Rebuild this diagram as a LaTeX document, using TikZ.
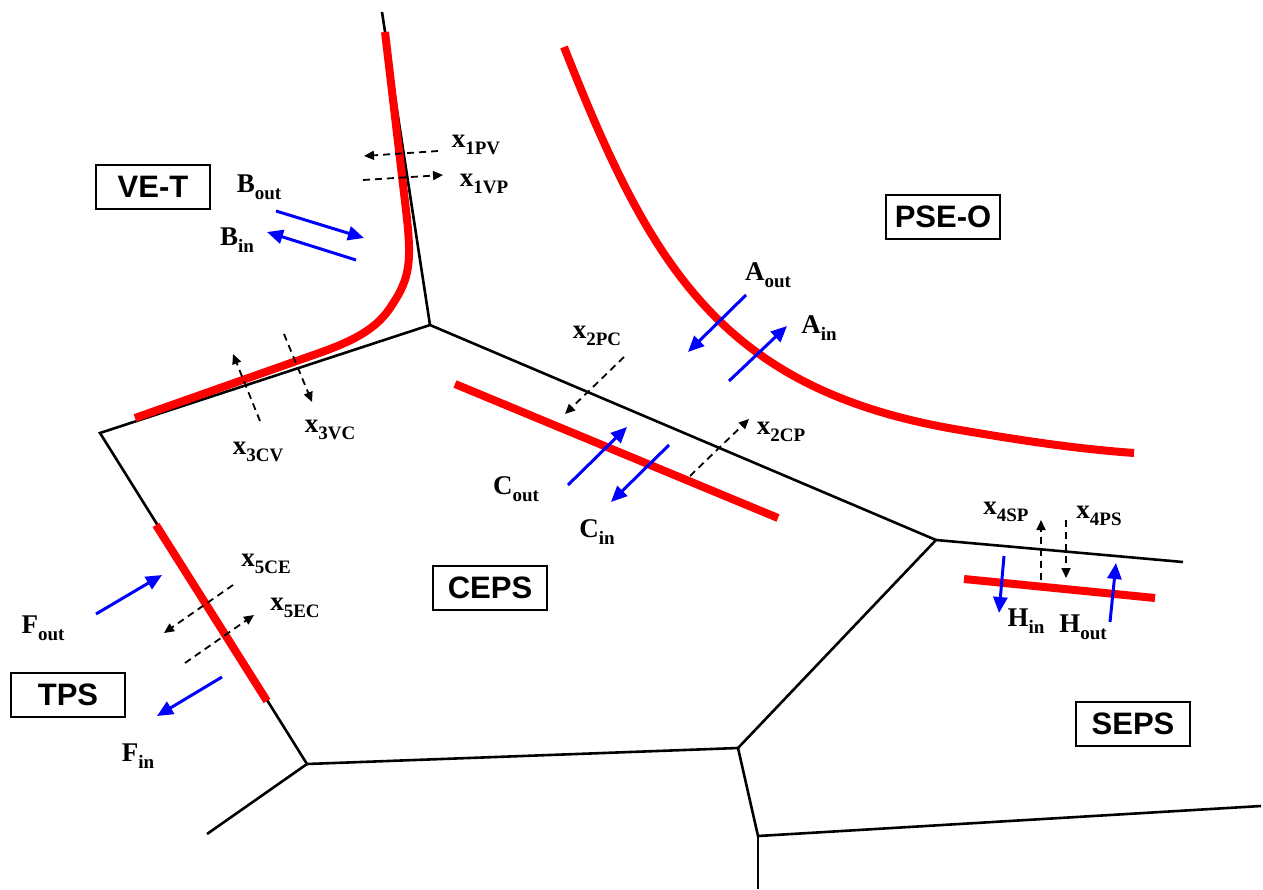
\documentclass[tikz,border=0pt]{standalone}
\usepackage{fontspec}
\setmainfont{Liberation Serif}
\newfontfamily\boxfont{Liberation Sans}
\usetikzlibrary{arrows.meta}
\newcommand{\lbl}[2]{{\fontsize{27}{30}\selectfont\bfseries #1\raisebox{-0.26em}{\fontsize{19}{22}\selectfont #2}}}
\tikzset{
  border/.style={line width=2.6pt,black},
  redline/.style={line width=8pt,red!100,line cap=butt},
  flow/.style={line width=3pt,blue,-{Triangle[length=16pt,width=14pt]}},
  xflow/.style={line width=1.8pt,black,dash pattern=on 7pt off 5pt,-{Triangle[length=10pt,width=9pt]}},
  region/.style={draw,line width=1.5pt,font=\boxfont\bfseries\fontsize{31}{34}\selectfont,minimum width=114pt,minimum height=44pt,inner sep=0pt},
  lab/.style={inner sep=0pt,anchor=center}
}
\begin{document}
\begin{tikzpicture}[x=1pt,y=-1pt]
\useasboundingbox (0,0) rectangle (1263,889);
% junctions
\coordinate (top) at (382,12);
\coordinate (j1) at (430,325);
\coordinate (j2) at (100,433);
\coordinate (j3) at (307,764);
\coordinate (j4) at (936,540);
\coordinate (j5) at (1183,562);
\coordinate (j6) at (738,748);
\coordinate (j7) at (207,834);
\coordinate (j8) at (758,836);
\coordinate (j9) at (1261,806);
\coordinate (j10) at (758,889);
\draw[border] (top) -- (j1) -- (j2) -- (j3) -- (j6) -- (j4) -- (j1);
\draw[border] (j4) -- (j5);
\draw[border] (j3) -- (j7);
\draw[border] (j6) -- (j8) -- (j9);
\draw[border] (j8) -- (j10);
% red membranes
\draw[redline] (385,32) -- (406,210) .. controls (412,262) and (410,278) .. (392,305) .. controls (378,328) and (355,340) .. (322,352) -- (135,418);
\draw[redline] (564,47) .. controls (650,265) and (720,390) .. (960,430) .. controls (1030,442) and (1080,449) .. (1134,453);
\draw[redline] (455,384) -- (778,518);
\draw[redline] (156,525) -- (267,701);
\draw[redline] (964,579) -- (1155,598);
% region boxes
\node[region] (vet) at (153,187) {VE-T};
\node[region] (pseo) at (943,217) {PSE-O};
\node[region] (ceps) at (490,588) {CEPS};
\node[region] (tps) at (68,695) {TPS};
\node[region] (seps) at (1133,724) {SEPS};
% blue flows
\coordinate (bo1) at (276,211); \coordinate (bo2) at (364,238);
\coordinate (bi1) at (356,260); \coordinate (bi2) at (267,232);
\coordinate (ao1) at (746,295); \coordinate (ao2) at (688,352);
\coordinate (ai1) at (729,381); \coordinate (ai2) at (787,326);
\coordinate (co1) at (568,485); \coordinate (co2) at (627,427);
\coordinate (ci1) at (669,445); \coordinate (ci2) at (611,502);
\coordinate (hi1) at (1004,556); \coordinate (hi2) at (999,613);
\coordinate (ho1) at (1110,622); \coordinate (ho2) at (1116,563);
\coordinate (fo1) at (96,614); \coordinate (fo2) at (162,575);
\coordinate (fi1) at (222,677); \coordinate (fi2) at (157,716);
\draw[flow] (bo1) -- (bo2);
\draw[flow] (bi1) -- (bi2);
\draw[flow] (ao1) -- (ao2);
\draw[flow] (ai1) -- (ai2);
\draw[flow] (co1) -- (co2);
\draw[flow] (ci1) -- (ci2);
\draw[flow] (hi1) -- (hi2);
\draw[flow] (ho1) -- (ho2);
\draw[flow] (fo1) -- (fo2);
\draw[flow] (fi1) -- (fi2);
% dashed flows
\coordinate (a1) at (438,151); \coordinate (a2) at (364,156);
\coordinate (b1) at (363,180); \coordinate (b2) at (443,175);
\coordinate (c1) at (260,421); \coordinate (c2) at (233,354);
\coordinate (d1) at (284,334); \coordinate (d2) at (312,402);
\coordinate (e1) at (624,357); \coordinate (e2) at (565,414);
\coordinate (f1) at (690,476); \coordinate (f2) at (749,419);
\coordinate (g1) at (1041,580); \coordinate (g2) at (1041,520);
\coordinate (h1) at (1066,520); \coordinate (h2) at (1066,578);
\coordinate (k1) at (233,585); \coordinate (k2) at (164,633);
\coordinate (m1) at (185,663); \coordinate (m2) at (254,615);
\draw[xflow] (a1) -- (a2);
\draw[xflow] (b1) -- (b2);
\draw[xflow] (c1) -- (c2);
\draw[xflow] (d1) -- (d2);
\draw[xflow] (e1) -- (e2);
\draw[xflow] (f1) -- (f2);
\draw[xflow] (g1) -- (g2);
\draw[xflow] (h1) -- (h2);
\draw[xflow] (k1) -- (k2);
\draw[xflow] (m1) -- (m2);
% labels
\node[lab] (l1) at (476,145) {\lbl{x}{1PV}};
\node[lab] (l2) at (484,184) {\lbl{x}{1VP}};
\node[lab] (l3) at (259,187) {\lbl{B}{out}};
\node[lab] (l4) at (237,240) {\lbl{B}{in}};
\node[lab] (l5) at (768,275) {\lbl{A}{out}};
\node[lab] (l6) at (819,328) {\lbl{A}{in}};
\node[lab] (l7) at (597,336) {\lbl{x}{2PC}};
\node[lab] (l8) at (781,432) {\lbl{x}{2CP}};
\node[lab] (l9) at (516,489) {\lbl{C}{out}};
\node[lab] (l10) at (597,532) {\lbl{C}{in}};
\node[lab] (l11) at (258,452) {\lbl{x}{3CV}};
\node[lab] (l12) at (330,430) {\lbl{x}{3VC}};
\node[lab] (l13) at (1006,512) {\lbl{x}{4SP}};
\node[lab] (l14) at (1099,516) {\lbl{x}{4PS}};
\node[lab] (l15) at (1026,621) {\lbl{H}{in}};
\node[lab] (l16) at (1083,627) {\lbl{H}{out}};
\node[lab] (l17) at (266,564) {\lbl{x}{5CE}};
\node[lab] (l18) at (295,608) {\lbl{x}{5EC}};
\node[lab] (l19) at (43,628) {\lbl{F}{out}};
\node[lab] (l20) at (138,756) {\lbl{F}{in}};
\end{tikzpicture}
\end{document}
